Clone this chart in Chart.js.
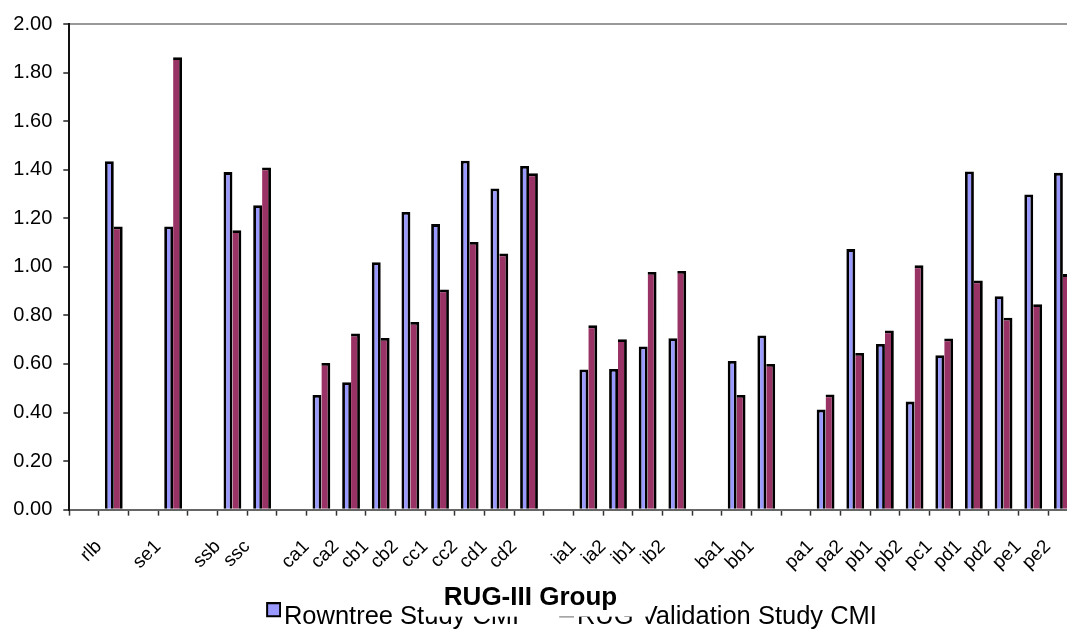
<!DOCTYPE html>
<html>
<head>
<meta charset="utf-8">
<script src="https://cdn.jsdelivr.net/npm/chart.js@4/dist/chart.umd.min.js"></script>
<style>
  html, body { margin: 0; padding: 0; background: #fff; overflow: hidden; }
  #wrap { width: 1067px; height: 631px; overflow: hidden; position: relative; background: #fff; }
  canvas { display: block; }
</style>
</head>
<body>
<div id="wrap"><canvas id="cmi" width="1100" height="640"></canvas></div>
<script>
// RUG-III groups; empty entries are spacer slots between the clinical families
const groups = ['', 'rlb', '', 'se1', '', 'ssb', 'ssc', '',
  'ca1', 'ca2', 'cb1', 'cb2', 'cc1', 'cc2', 'cd1', 'cd2', '',
  'ia1', 'ia2', 'ib1', 'ib2', '',
  'ba1', 'bb1', '',
  'pa1', 'pa2', 'pb1', 'pb2', 'pc1', 'pd1', 'pd2', 'pe1', 'pe2'];

const rowntreeCMI = [null, 1.435, null, 1.166, null, 1.390, 1.254, null,
  0.472, 0.525, 1.019, 1.226, 1.176, 1.437, 1.323, 1.415, null,
  0.577, 0.579, 0.672, 0.706, null,
  0.612, 0.717, null,
  0.412, 1.073, 0.682, 0.445, 0.636, 1.393, 0.879, 1.298, 1.387];

const rugValidationCMI = [null, 1.166, null, 1.863, null, 1.151, 1.409, null,
  0.604, 0.725, 0.707, 0.773, 0.907, 1.102, 1.055, 1.385, null,
  0.759, 0.702, 0.979, 0.983, null,
  0.472, 0.600, null,
  0.474, 0.645, 0.738, 1.006, 0.705, 0.944, 0.790, 0.846, 0.970];

const yTickValues = [0, 0.2, 0.4, 0.6, 0.8, 1.0, 1.2, 1.4, 1.6, 1.8, 2.0];

const seriesNames = ['Rowntree Study CMI', 'RUG Validation Study CMI'];
const seriesColors = ['#9999FF', '#993366'];
const xAxisTitle = 'RUG-III Group';

const FONT = "'Liberation Sans', Arial, Helvetica, sans-serif";
const LEGEND_FONT = 25.5;
const SWATCH_SLOT = 1.05;   // legend pointStyleWidth

// Legend swatch: 15px bordered square, sitting just left of the text and a little above its middle
function makeSwatch(color) {
  const half = LEGEND_FONT / 2;
  const w = Math.round(2 * (half + SWATCH_SLOT / 2 - 3));
  const cv = document.createElement('canvas');
  cv.width = w;
  cv.height = 30;
  const g = cv.getContext('2d');
  g.fillStyle = '#000000';
  g.fillRect(w - 15, 0, 15, 15);
  g.fillStyle = color;
  g.fillRect(w - 13, 2, 11, 11);
  return cv;
}
const swatches = seriesColors.map(makeSwatch);

// Axis title with an opaque white box, drawn last so it sits over the legend
const axisTitle = {
  id: 'axisTitle',
  afterDraw(chart) {
    const c = chart.ctx;
    const top = chart.chartArea.bottom + 76;
    c.save();
    c.fillStyle = '#ffffff';
    c.fillRect(425, top, 222, 31);
    c.fillStyle = '#000000';
    c.font = "bold 26px " + FONT;
    c.textAlign = 'center';
    c.textBaseline = 'alphabetic';
    c.fillText(xAxisTitle, 530.5, top + 19.5);
    c.restore();
  }
};

const barBorder = 2.8;

new Chart(document.getElementById('cmi'), {
  type: 'bar',
  data: {
    labels: groups,
    datasets: [
      {
        label: seriesNames[0],
        data: rowntreeCMI,
        backgroundColor: seriesColors[0],
        borderColor: '#000000',
        borderWidth: { top: barBorder, right: barBorder, bottom: 0, left: barBorder },
        borderSkipped: false
      },
      {
        label: seriesNames[1],
        data: rugValidationCMI,
        backgroundColor: seriesColors[1],
        borderColor: '#000000',
        borderWidth: { top: barBorder, right: barBorder, bottom: 0, left: 0 },
        borderSkipped: false
      }
    ]
  },
  options: {
    responsive: false,
    animation: false,
    devicePixelRatio: 1,
    layout: { padding: { left: 0, right: 22.3, top: 24, bottom: 0 } },
    datasets: { bar: { categoryPercentage: 0.6, barPercentage: 1.0 } },
    scales: {
      x: {
        grid: {
          display: true,
          drawOnChartArea: false,
          offset: true,
          tickLength: 6,
          tickColor: '#333333',
          tickWidth: 1.5
        },
        border: { color: '#666666', width: 2 },
        ticks: {
          autoSkip: false,
          maxRotation: 45,
          minRotation: 45,
          mirror: true,
          padding: -42.1,
          labelOffset: 1.1,
          color: '#000000',
          font: { family: FONT, size: 19 }
        },
        afterFit(scale) { scale.height = 50.85; }
      },
      y: {
        min: 0,
        max: 2,
        afterBuildTicks(scale) { scale.ticks = yTickValues.map(v => ({ value: v })); },
        grid: {
          color: c => (c.tick && c.tick.value === 2) ? '#999999' : 'rgba(0,0,0,0)',
          lineWidth: 2,
          tickLength: 6,
          tickColor: '#222222',
          tickWidth: 1.5
        },
        border: { color: '#111111', width: 2 },
        ticks: {
          padding: 11,
          color: '#000000',
          font: { family: FONT, size: 20 },
          callback: v => Number(v).toFixed(2)
        },
        afterFit(scale) { scale.width = 69.3; }
      }
    },
    plugins: {
      legend: {
        position: 'bottom',
        fullSize: false,
        labels: {
          color: '#000000',
          font: { family: FONT, size: LEGEND_FONT },
          usePointStyle: true,
          pointStyleWidth: SWATCH_SLOT,
          padding: 44,
          generateLabels(chart) {
            return Chart.defaults.plugins.legend.labels.generateLabels(chart)
              .map((item, i) => Object.assign(item, { pointStyle: swatches[i] }));
          }
        }
      },
      tooltip: { enabled: false }
    }
  },
  plugins: [axisTitle]
});
</script>
</body>
</html>
